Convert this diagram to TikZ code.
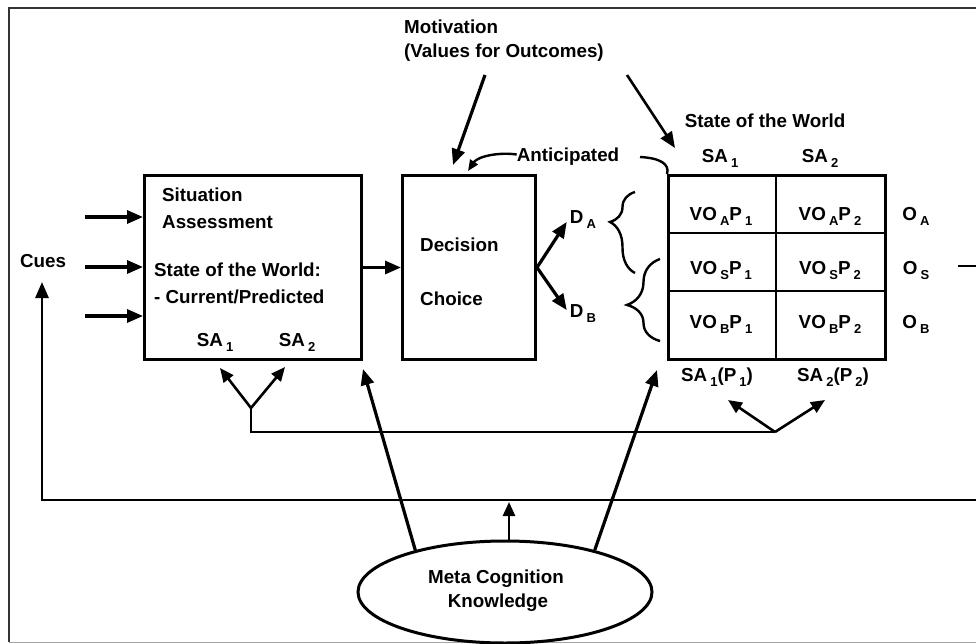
\documentclass[tikz,border=0pt]{standalone}
\usepackage{fontspec}
\setmainfont{Liberation Sans}
\usetikzlibrary{shapes,arrows.meta,decorations.pathreplacing,positioning}

\newcommand{\sbs}[1]{\,\raisebox{-5pt}{\fontsize{13}{13}\selectfont #1}}

\begin{document}
\begin{tikzpicture}[x=1pt, y=-1pt,
    lbl/.style={font=\fontsize{18.8}{22}\selectfont\bfseries, inner sep=0pt, text height=13.4pt, text depth=0pt},
    box/.style={draw, line width=3pt, inner sep=0pt, anchor=north west},
    arr/.style={-{Triangle[length=16pt, width=13pt]}, line width=3.2pt},
    thinarr/.style={-{Triangle[length=14pt, width=12pt]}, line width=2.6pt}]
                \useasboundingbox (0,0) rectangle (976,644);
                \draw[line width=2pt, black!80] (990,8) -- (9,8) -- (9,642);
                \draw[line width=1.5pt, black!35] (9,642.5) -- (990,642.5);

                % boxes
                \node[box, minimum width=217pt, minimum height=184pt] (sa)  at (143,174) {};
                \node[box, minimum width=133pt, minimum height=184pt] (dc)  at (401,174) {};
                \node[box, minimum width=217pt, minimum height=184pt] (tbl) at (667,174) {};
                \draw[line width=1.8pt] (776,174) -- (776,358);
                \draw[line width=1.8pt] (667,233) -- (884,233);
                \draw[line width=1.8pt] (667,291) -- (884,291);
                \node[draw, ellipse, line width=3pt, minimum width=294pt, minimum height=102pt] (meta) at (505,592) {};

                % texts
                \node[lbl, anchor=west] (mot)    at (404,27)  {Motivation};
                \node[lbl, anchor=west] (motv)   at (404,50.5) {(Values for Outcomes)};
                \node[lbl]              (cues)   at (43,260.5) {Cues};
                \node[lbl, anchor=west] (sit)    at (162,195) {Situation};
                \node[lbl, anchor=west] (assess) at (162,222) {Assessment};
                \node[lbl, anchor=west] (sow)    at (154,270) {State of the World:};
                \node[lbl, anchor=west] (curr)   at (154,297) {- Current/Predicted};
                \node[lbl]              (sa1)    at (215,340) {SA\sbs{1}};
                \node[lbl]              (sa2)    at (297,340) {SA\sbs{2}};
                \node[lbl, anchor=west] (dec)    at (420,245) {Decision};
                \node[lbl, anchor=west] (choice) at (420,298.5) {Choice};
                \node[lbl]              (ant)    at (568,154.5) {Anticipated};
                \node[lbl]              (da)     at (583,217) {D\sbs{A}};
                \node[lbl]              (db)     at (583,311) {D\sbs{B}};
                \node[lbl]              (tsow)   at (765,121) {State of the World};
                \node[lbl]              (tsa1)   at (720,156) {SA\sbs{1}};
                \node[lbl]              (tsa2)   at (820,156) {SA\sbs{2}};
                \foreach \r/\y in {A/214, S/268, B/322} {
                    \node[lbl] (v\r1) at (721,\y) {VO\sbs{\r}P\sbs{1}};
                    \node[lbl] (v\r2) at (830,\y) {VO\sbs{\r}P\sbs{2}};
                    \node[lbl] (o\r)  at (916,\y) {O\sbs{\r}};
                }
                \node[lbl]              (sap1)   at (717,375) {SA\sbs{1}(P\sbs{1})};
                \node[lbl]              (sap2)   at (833,375) {SA\sbs{2}(P\sbs{2})};
                \node[lbl]              (mc)     at (496,577) {Meta Cognition};
                \node[lbl]              (kn)     at (498,601) {Knowledge};

                % free ends
                \coordinate (in1) at (85,217);
                \coordinate (in2) at (85,267);
                \coordinate (in3) at (85,316);
                \coordinate (m1)  at (485,75);
                \coordinate (m2)  at (627,75);
                \coordinate (dctop) at (453,165);
                \coordinate (tbltop) at (675,148);
                \coordinate (antip) at (468,171);
                \coordinate (arcs) at (640,157);
                \coordinate (jl)  at (251,432);
                \coordinate (jm)  at (251,408);
                \coordinate (jr)  at (775,432);
                \coordinate (sa1tip) at (220,368);
                \coordinate (sa2tip) at (285,367);
                \coordinate (sap1tip) at (728,400);
                \coordinate (sap2tip) at (825,400);
                \coordinate (satip) at (363,369);
                \coordinate (tbltip) at (657,370);
                \coordinate (fbr) at (990,500);
                \coordinate (fbl) at (42,500);
                \coordinate (cuetip) at (42,282);
                \coordinate (outl) at (958,266);

                % connectors
                \draw[arr] (in1) -- (in1 -| sa.west);
                \draw[arr] (in2) -- (in2 -| sa.west);
                \draw[arr] (in3) -- (in3 -| sa.west);
                \draw[arr] (sa.east) -- (dc.west);
                \draw[arr] (m1) -- (dctop);
                \draw[arr, line width=2.6pt] (m2) -- (tbltop);
                \draw[-{Triangle[length=11pt, width=9pt]}, line width=2.4pt] (ant.west) .. controls (500,152) and (478,156) .. (antip);
                \draw[line width=2.4pt] (arcs) .. controls (660,158) and (670,164) .. (tbl.north west);
                \draw[arr] (dc.east) -- ([shift={(-3,-2)}]da.south west);
                \draw[arr] (dc.east) -- ([shift={(-3,6)}]db.north west);
                \draw[line width=2.4pt, decorate, decoration={brace, amplitude=25pt, aspect=0.63}] (635,273) -- (635,192);
                \draw[line width=2.4pt, decorate, decoration={brace, amplitude=33pt, aspect=0.44}] (660,341) -- (660,259);
                \draw[line width=2.4pt] (outl) -- (990,266);

                \draw[line width=2.4pt] (jr) -- (jl) -- (jm);
                \draw[thinarr] (jm) -- (sa1tip);
                \draw[thinarr] (jm) -- (sa2tip);
                \draw[thinarr] (jr) -- (sap1tip);
                \draw[thinarr] (jr) -- (sap2tip);

                \draw[arr] (meta.155) -- (satip);
                \draw[arr] (meta.25) -- (tbltip);
                \draw[thinarr] (meta.north -| 509,0) -- (509,502);
                \draw[arr, line width=2.8pt] (fbr) -- (fbl) -- (cuetip);
            \end{tikzpicture}
\end{document}
